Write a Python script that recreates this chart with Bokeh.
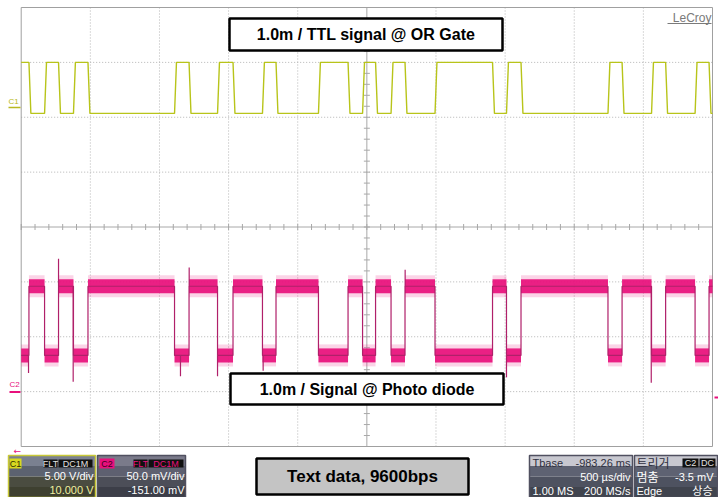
from bokeh.plotting import figure
from bokeh.models import Range1d
from bokeh.embed import file_html
from bokeh.resources import INLINE
from bokeh.core.properties import value

TIME_PER_DIV_US = 500.0
N_DIV_X = 10
N_DIV_Y = 8
# edge times (µs from the left edge of the screen); C1 starts high
edges_us = [56, 169, 270, 378, 483, 1109, 1214, 1420, 1532, 1745, 1843, 2150, 2364,
            2469, 2563, 2675, 2776, 2993, 3409, 3510, 3615, 4244, 4346, 4559, 4661,
            4874, 4975]
c1_high_v = 5.0
c1_low_v = 0.35
c2_high_mv = 96.0
c2_low_mv = 33.0
spike_t_us = [53, 270, 376, 1152, 1215, 1420, 1750, 2777, 3510, 4557]
spike_mv = [17, 121, 9, 14, 113, 14, 19, 111, 13, 8]
C1_VDIV, C1_POS = 5.0, 2.0      # V/div, marker position (div)
C2_VDIV, C2_POS = 50.0, -3.0    # mV/div, marker position (div)

title_c1 = "1.0m / TTL signal @ OR Gate"
title_c2 = "1.0m / Signal @ Photo diode"
caption = "Text data, 9600bps"

# ---------------- layout geometry (pixels) ----------------
W, H = 718, 497
GX0, GX1, GY0, GY1 = 20.7, 712.0, 7.0, 446.0
T_END = TIME_PER_DIV_US * N_DIV_X
x_per_px = T_END / (GX1 - GX0)
d_per_px = N_DIV_Y / (GY1 - GY0)
x_start = -GX0 * x_per_px
x_end = T_END + (W - GX1) * x_per_px
y_end = N_DIV_Y / 2 + GY0 * d_per_px
y_start = -N_DIV_Y / 2 - (H - GY1) * d_per_px


def X(px):
    return x_start + px * x_per_px


def Y(py):
    return y_end - py * d_per_px


p = figure(width=W, height=H, x_range=Range1d(x_start, x_end),
           y_range=Range1d(y_start, y_end), x_axis_type=None, y_axis_type=None,
           toolbar_location=None, output_backend="svg", min_border=0,
           outline_line_color=None, background_fill_color="white",
           border_fill_color="white")
p.extra_y_ranges = {
    "c1": Range1d((y_start - C1_POS) * C1_VDIV, (y_end - C1_POS) * C1_VDIV),
    "c2": Range1d((y_start - C2_POS) * C2_VDIV, (y_end - C2_POS) * C2_VDIV),
}

# ---------------- graticule ----------------
GRID = "#b4b4b4"
half_y = N_DIV_Y / 2
inner_t = [i * TIME_PER_DIV_US for i in range(1, N_DIV_X) if i != N_DIV_X // 2]
p.segment(x0=inner_t, y0=[-half_y] * len(inner_t), x1=inner_t, y1=[half_y] * len(inner_t),
          line_color=GRID, line_width=1, line_dash="1 2")
inner_d = [d for d in range(-3, 4) if d != 0]
p.segment(x0=[0] * len(inner_d), y0=inner_d, x1=[T_END] * len(inner_d), y1=inner_d,
          line_color=GRID, line_width=1, line_dash="1 2")
# centre cross
p.segment(x0=[T_END / 2, 0], y0=[-half_y, 0], x1=[T_END / 2, T_END], y1=[half_y, 0],
          line_color="#a8a8a8", line_width=1)
tk = [-half_y + 0.2 * k for k in range(0, 41)]
p.segment(x0=[T_END / 2 - 3 * x_per_px] * len(tk), y0=tk,
          x1=[T_END / 2 + 3 * x_per_px] * len(tk), y1=tk, line_color="#a8a8a8")
tt = [TIME_PER_DIV_US * 0.2 * k for k in range(0, 51)]
p.segment(x0=tt, y0=[-3 * d_per_px] * len(tt), x1=tt, y1=[3 * d_per_px] * len(tt),
          line_color="#a8a8a8")
# border
p.quad(left=[0], right=[T_END], bottom=[-half_y], top=[half_y], fill_color=None,
       line_color="#a0a0a0", line_width=1)

# ---------------- C1 trace (TTL) ----------------
RISE_US = 14
c1_x, c1_y = [0.0], [c1_high_v]
hi = True
for e in edges_us:
    cur = c1_high_v if hi else c1_low_v
    hi = not hi
    nxt = c1_high_v if hi else c1_low_v
    c1_x += [e, e + RISE_US]
    c1_y += [cur, nxt]
c1_x.append(T_END)
c1_y.append(c1_high_v if hi else c1_low_v)
C1_COL = "#b8c41a"
p.line(c1_x, c1_y, y_range_name="c1", line_color=C1_COL, line_width=1.4)

# ---------------- C2 trace (photo diode, inverted) ----------------
C2_COL = "#e8107c"
bounds = [0.0] + edges_us + [T_END]
seg_x0, seg_x1, seg_y = [], [], []
c2_x, c2_y = [], []
lo = True
for a, b in zip(bounds[:-1], bounds[1:]):
    lvl = c2_low_mv if lo else c2_high_mv
    seg_x0.append(a)
    seg_x1.append(b)
    seg_y.append(lvl)
    c2_x += [a, b]
    c2_y += [lvl, lvl]
    lo = not lo
p.segment(x0=seg_x0, y0=seg_y, x1=seg_x1, y1=seg_y, y_range_name="c2",
          line_color=C2_COL, line_width=22, line_alpha=0.18, line_cap="butt")
p.segment(x0=seg_x0, y0=seg_y, x1=seg_x1, y1=seg_y, y_range_name="c2",
          line_color=C2_COL, line_width=14, line_alpha=0.92, line_cap="butt")
p.line(c2_x, c2_y, y_range_name="c2", line_color="#b0206a", line_width=1.2)
base = []
for t in spike_t_us:
    k = sum(1 for e in edges_us if e <= t)
    base.append(c2_low_mv if k % 2 == 0 else c2_high_mv)
p.segment(x0=spike_t_us, y0=base, x1=spike_t_us, y1=spike_mv, y_range_name="c2",
          line_color="#b0206a", line_width=1.2)

# ---------------- channel markers / labels ----------------
p.text(x=[X(8)], y=[Y(101)], text=["C1"], text_font=value("Liberation Sans"),
       text_font_size="8px", text_color="#b8b820", text_baseline="middle")
p.segment(x0=[X(8)], y0=[Y(107)], x1=[X(20)], y1=[Y(107)], line_color="#b8b820",
          line_width=1.5)
p.text(x=[X(9)], y=[Y(384)], text=["C2"], text_font=value("Liberation Sans"),
       text_font_size="8px", text_color=C2_COL, text_baseline="middle")
p.segment(x0=[X(9)], y0=[Y(391.5)], x1=[X(20)], y1=[Y(391.5)], line_color=C2_COL,
          line_width=2)
p.text(x=[X(13)], y=[Y(450)], text=["\u2190"], text_font=value("DejaVu Sans"),
       text_font_size="9px", text_color=C2_COL, text_baseline="middle")
p.segment(x0=[X(714)], y0=[Y(397)], x1=[X(718)], y1=[Y(397)], line_color=C2_COL,
          line_width=2)
p.text(x=[X(711)], y=[Y(17)], text=["LeCroy"], text_font=value("Liberation Sans"),
       text_font_size="12px", text_color="#7a7a7a", text_align="right",
       text_baseline="middle")
p.segment(x0=[X(667)], y0=[Y(23)], x1=[X(711)], y1=[Y(23)], line_color="#7a7a7a")

# ---------------- title boxes ----------------
for (l, r, t, b, s) in [(229, 502, 18, 50, title_c1), (230, 503, 373, 404, title_c2)]:
    p.quad(left=[X(l)], right=[X(r)], top=[Y(t)], bottom=[Y(b)], fill_color="white",
           line_color="black", line_width=2.5)
    p.text(x=[X((l + r) / 2)], y=[Y((t + b) / 2)], text=[s],
           text_font=value("Liberation Sans"), text_font_style="bold",
           text_font_size="16px", text_color="black", text_align="center",
           text_baseline="middle")

p.quad(left=[X(256)], right=[X(468)], top=[Y(458)], bottom=[Y(494)],
       fill_color="#c4c4c4", line_color="black", line_width=2.5)
p.text(x=[X(362)], y=[Y(476)], text=[caption], text_font=value("Liberation Sans"),
       text_font_style="bold", text_font_size="17px", text_color="black",
       text_align="center", text_baseline="middle")

# ---------------- bottom info panels ----------------
FONT = value("Liberation Sans")
KFONT = value("Noto Sans CJK KR")


def panel(l, r, border, bands):
    n = len(bands)
    h = (497 - 455) / n
    for i, c in enumerate(bands):
        p.quad(left=[X(l)], right=[X(r)], top=[Y(455 + i * h)], bottom=[Y(455 + (i + 1) * h)],
               fill_color=c, line_color=None)
    p.quad(left=[X(l)], right=[X(r)], top=[Y(455)], bottom=[Y(497)], fill_color=None,
           line_color=border, line_width=1.5)


def txt(px, py, s, color="white", align="right", size="11px", font=FONT):
    p.text(x=[X(px)], y=[Y(py)], text=[s], text_font=font, text_font_size=size,
           text_color=color, text_align=align, text_baseline="middle")


def tag(l, r, t, b, fill, s, color):
    p.quad(left=[X(l)], right=[X(r)], top=[Y(t)], bottom=[Y(b)], fill_color=fill,
           line_color=None)
    txt((l + r) / 2, (t + b) / 2, s, color=color, align="center", size="9px")


# C1
panel(8, 95, "#c8c838", ["#7a8090", "#5c6270", "#4a4c40", "#3e4030"])
tag(9, 21, 458, 468, "#d8d820", "C1", "#303000")
tag(43, 57, 459, 467, "#101010", "FLT", "#e0e0e0")
tag(58, 92, 459, 467, "#101010", "DC1M", "#e0e0e0")
txt(93, 475, "5.00 V/div")
txt(93, 489, "10.000 V", color="#f0f0a0")
# C2
panel(97, 185, "#505060", ["#7a7a8a", "#5e6070", "#4c4e58", "#3c3e48"])
tag(99, 114, 458, 468, C2_COL, "C2", "#400020")
tag(133, 147, 459, 467, "#101010", "FLT", C2_COL)
tag(148, 183, 459, 467, "#101010", "DC1M", C2_COL)
txt(184, 475, "50.0 mV/div")
txt(184, 489, "-151.00 mV")
# Timebase
panel(529, 632, "#505060", ["#c8c8d0", "#5e6272", "#4e5260", "#40444e"])
txt(532, 462, "Tbase", color="#303040", align="left")
txt(630, 462, "-983.26 ms", color="#303040")
txt(630, 476, "500 \u00b5s/div")
txt(532, 490, "1.00 MS", align="left")
txt(630, 490, "200 MS/s")
# Trigger
panel(634, 717, "#505060", ["#c8c8d0", "#5e6272", "#4e5260", "#40444e"])
txt(636, 462, "\ud2b8\ub9ac\uac70", color="#303040", align="left", size="12px", font=KFONT)
tag(682, 698, 458, 467, "#101010", "C2", "#e0e0e0")
tag(699, 715, 458, 467, "#101010", "DC", "#e0e0e0")
txt(636, 476, "\uba48\ucda4", align="left", size="12px", font=KFONT)
txt(713, 476, "-3.5 mV")
txt(636, 490, "Edge", align="left")
txt(712, 489, "\uc0c1\uc2b9", size="11px", font=KFONT)

open("out.html", "w").write(file_html(p, INLINE))
